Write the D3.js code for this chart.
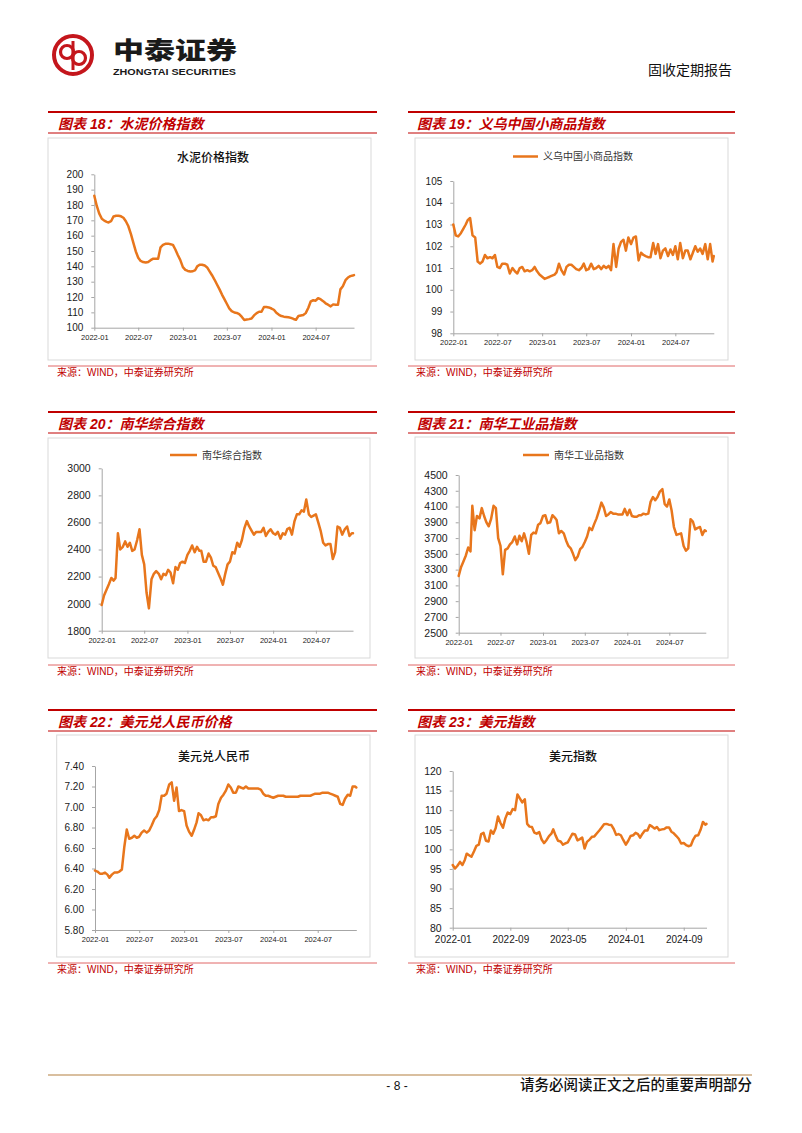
<!DOCTYPE html>
<html><head><meta charset="utf-8">
<script src="https://cdn.jsdelivr.net/npm/d3@7"></script>
<style>
html,body{margin:0;padding:0;background:#fff;}
svg{display:block;}
</style></head><body>
<svg id="page" width="802" height="1133"></svg>
<script>
// ---------------- DATA ----------------
const dates = [
"2022-01-01","2022-01-11","2022-01-21","2022-02-01","2022-02-11","2022-02-21","2022-03-01","2022-03-11","2022-03-21","2022-04-01","2022-04-11","2022-04-21",
"2022-05-01","2022-05-11","2022-05-21","2022-06-01","2022-06-11","2022-06-21","2022-07-01","2022-07-11","2022-07-21","2022-08-01","2022-08-11","2022-08-21",
"2022-09-01","2022-09-11","2022-09-21","2022-10-01","2022-10-11","2022-10-21","2022-11-01","2022-11-11","2022-11-21","2022-12-01","2022-12-11","2022-12-21",
"2023-01-01","2023-01-11","2023-01-21","2023-02-01","2023-02-11","2023-02-21","2023-03-01","2023-03-11","2023-03-21","2023-04-01","2023-04-11","2023-04-21",
"2023-05-01","2023-05-11","2023-05-21","2023-06-01","2023-06-11","2023-06-21","2023-07-01","2023-07-11","2023-07-21","2023-08-01","2023-08-11","2023-08-21",
"2023-09-01","2023-09-11","2023-09-21","2023-10-01","2023-10-11","2023-10-21","2023-11-01","2023-11-11","2023-11-21","2023-12-01","2023-12-11","2023-12-21",
"2024-01-01","2024-01-11","2024-01-21","2024-02-01","2024-02-11","2024-02-21","2024-03-01","2024-03-11","2024-03-21","2024-04-01","2024-04-11","2024-04-21",
"2024-05-01","2024-05-11","2024-05-21","2024-06-01","2024-06-11","2024-06-21","2024-07-01","2024-07-11","2024-07-21","2024-08-01","2024-08-11","2024-08-21",
"2024-09-01","2024-09-11","2024-09-21","2024-10-01","2024-10-11","2024-10-21","2024-11-01","2024-11-11","2024-11-21","2024-12-01","2024-12-06"
];

const cementValues = [
186,179.5,174.5,171,169.8,169,168.6,169.4,172.5,173,
173,172.6,171.7,169.4,166.3,161,155.3,149.7,145.6,143.5,
142.8,142.5,142.8,144,145,145,145,152.4,154,154.7,
154.8,154.4,154,151,147.4,144.2,139.5,137.7,137,136.6,
136.8,137.6,140,141,141,140.5,139.3,136.7,134.2,131.4,
128.3,125,121.6,118.6,115.6,112.6,110.8,109.9,109.6,108.8,
107,105,105.3,105.6,106,108,109.5,110.4,110.4,113.5,
113.5,113.2,112.5,111.7,109.7,108.4,107.6,107.2,107,106.8,
106.4,105.7,105.2,107.6,108,108.3,109.5,113,117.2,117.9,
117.6,119.2,118.6,117.3,115.9,115,113.9,115.2,114.9,115,
125,127,131,132.7,133.6,134,134.3
];

const yiwuValues = [
103.0,102.5,102.45,102.6,102.8,103.0,103.2,103.3,102.5,102.4,
101.3,101.2,101.3,101.6,101.45,101.5,101.45,101.6,101.05,101.0,
101.2,101.2,101.15,100.75,101.0,100.85,100.75,101.0,101.05,100.85,
100.9,100.85,100.9,101.05,100.85,100.7,100.6,100.5,100.55,100.6,
100.65,100.7,100.8,101.2,100.9,100.7,101.05,101.15,101.15,101.05,
100.95,100.9,101.0,101.2,100.9,100.95,101.2,100.95,101.0,101.1,
100.95,101.1,101.0,101.1,100.9,102.1,101.05,101.9,102.2,102.3,
101.8,102.4,102.1,102.4,102.45,101.35,101.7,101.6,101.55,101.5,
101.5,102.15,101.65,102.1,101.45,101.8,101.9,101.55,101.85,101.6,
102.0,101.4,102.15,101.45,101.8,101.8,101.4,101.7,102.0,101.75,
101.9,101.65,102.1,101.4,102.1,101.3,101.55
];

const nanhuaValues = [
1990,2060,2100,2145,2190,2170,2190,2520,2400,2420,
2460,2420,2450,2390,2400,2470,2550,2360,2290,2080,
1965,2180,2220,2240,2220,2180,2220,2210,2250,2230,
2150,2270,2250,2300,2310,2300,2360,2390,2430,2380,
2420,2390,2390,2310,2310,2370,2340,2280,2270,2230,
2190,2140,2220,2290,2310,2380,2370,2450,2420,2470,
2560,2610,2570,2540,2510,2530,2530,2530,2560,2500,
2530,2550,2520,2510,2530,2480,2520,2510,2550,2560,
2510,2610,2660,2660,2690,2680,2770,2660,2640,2650,
2660,2600,2540,2450,2430,2440,2440,2330,2380,2570,
2560,2510,2550,2570,2500,2520,2520
];

const industrialValues = [
3220,3330,3400,3480,3580,3530,4110,3800,3980,3950,
4080,3980,3900,3850,3940,4110,4080,3700,3600,3240,
3550,3570,3620,3650,3720,3620,3730,3660,3760,3660,
3500,3740,3770,3760,3870,3890,3980,3990,3890,3900,
3990,3960,3930,3760,3790,3760,3670,3600,3570,3500,
3420,3470,3560,3590,3650,3720,3830,3800,3880,3950,
4050,4150,4090,3980,4000,4030,4010,4010,4000,4000,
4000,4070,3990,4060,3980,3970,3970,3990,3990,4010,
4000,4010,4160,4220,4180,4220,4290,4320,4130,4100,
4190,4050,3840,3740,3750,3760,3600,3540,3570,3940,
3910,3810,3830,3840,3740,3800,3790
];

const usdcnyValues = [
6.38,6.37,6.35,6.35,6.36,6.34,6.31,6.34,6.36,6.36,
6.37,6.39,6.61,6.78,6.69,6.70,6.72,6.70,6.71,6.75,
6.77,6.75,6.77,6.82,6.88,6.91,6.97,7.11,7.11,7.13,
7.22,7.24,7.06,7.19,6.96,6.97,6.96,6.82,6.76,6.72,
6.78,6.85,6.94,6.92,6.87,6.88,6.87,6.90,6.90,6.91,
7.03,7.09,7.12,7.16,7.22,7.19,7.14,7.14,7.20,7.19,
7.18,7.20,7.18,7.18,7.18,7.18,7.18,7.17,7.13,7.11,
7.11,7.10,7.09,7.10,7.11,7.11,7.11,7.10,7.10,7.10,
7.10,7.10,7.10,7.11,7.11,7.11,7.11,7.11,7.12,7.13,
7.13,7.13,7.14,7.14,7.14,7.13,7.12,7.11,7.10,7.03,
7.02,7.08,7.12,7.11,7.20,7.20,7.19
];

const dxyValues = [
96,95.1,95.8,96.8,96,97.3,98.9,98.5,98.1,99.5,
100.9,101.2,103.9,104.2,102.2,102,104.8,104,105.4,108.4,
106.8,105.5,107.9,109.4,109,110.3,110,114,113,112,
112.8,106.5,105.8,105.7,104.3,104,104.4,102.5,101.6,102.4,
103.4,104,105.1,103.5,102.2,102,101.2,101.5,101.8,102.9,
104,103.8,102.3,102.6,103,100.2,101.9,102.5,103.2,103.3,
104.1,104.8,105.6,106.4,106.5,106.3,106.2,105.2,103.7,103.9,
103.6,102.4,101.2,102.2,103.4,103.6,104.2,103.9,103,104,
104.8,104.8,106.2,105.8,105.3,105.7,104.9,105.1,105.2,105.6,
105.6,104.5,104.1,103.4,102.7,101.5,101.6,101.1,100.8,101,
102.5,103.5,103.6,105,107,106.3,106.5
];

const xTicksHalfYear = ["2022-01","2022-07","2023-01","2023-07","2024-01","2024-07"];
const xTicksDxy = ["2022-01","2022-09","2023-05","2024-01","2024-09"];
const cementTicks = [100,110,120,130,140,150,160,170,180,190,200];
const yiwuTicks = [98,99,100,101,102,103,104,105];
const nanhuaTicks = [1800,2000,2200,2400,2600,2800,3000];
const industrialTicks = [2500,2700,2900,3100,3300,3500,3700,3900,4100,4300,4500];
const usdcnyTicks = [5.8,6.0,6.2,6.4,6.6,6.8,7.0,7.2,7.4];
const dxyTicks = [80,85,90,95,100,105,110,115,120];

// ---------------- STYLE ----------------
const RED = "#c00000";
const ORANGE = "#e8761c";
const FONT = "'Liberation Sans','Noto Sans CJK SC',sans-serif";
const CJK = "'Noto Sans CJK SC',sans-serif";
const SOURCE = "来源：WIND，中泰证券研究所";

const svg = d3.select("#page");
const parseDay = d3.timeParse("%Y-%m-%d");
const parseMonth = d3.timeParse("%Y-%m");

// ---------------- HEADER ----------------
const logo = svg.append("g");
logo.append("circle").attr("cx",73).attr("cy",55).attr("r",19)
  .attr("fill","none").attr("stroke","#c4161c").attr("stroke-width",4);
logo.append("line").attr("x1",73).attr("x2",73).attr("y1",41).attr("y2",70)
  .attr("stroke","#c4161c").attr("stroke-width",3);
logo.append("circle").attr("cx",67).attr("cy",52).attr("r",6.5)
  .attr("fill","none").attr("stroke","#c4161c").attr("stroke-width",3.2);
logo.append("circle").attr("cx",79).attr("cy",58).attr("r",6.5)
  .attr("fill","none").attr("stroke","#c4161c").attr("stroke-width",3.2);
logo.append("text").attr("x",113).attr("y",59).attr("font-family",CJK)
  .attr("font-weight",900).attr("font-size",24).attr("fill","#1a1a1a")
  .attr("textLength",124).attr("lengthAdjust","spacingAndGlyphs").text("中泰证券");
logo.append("text").attr("x",113).attr("y",74.5).attr("font-family","'Liberation Sans Narrow','Liberation Sans',sans-serif")
  .attr("font-weight",700).attr("font-size",9).attr("fill","#1a1a1a")
  .attr("textLength",123).attr("lengthAdjust","spacingAndGlyphs").text("ZHONGTAI SECURITIES");
svg.append("text").attr("x",732).attr("y",75).attr("text-anchor","end")
  .attr("font-family",CJK).attr("font-size",14).attr("fill","#111").text("固收定期报告");

// ---------------- PANELS ----------------
function panel(cfg) {
  const g = svg.append("g");
  g.append("line").attr("x1",cfg.lx0).attr("x2",cfg.lx1).attr("y1",cfg.top).attr("y2",cfg.top)
    .attr("stroke",RED).attr("stroke-width",1.8);
  g.append("text").attr("x",cfg.tx).attr("y",cfg.top+17).attr("font-family",FONT)
    .attr("font-size",14).attr("font-weight",700).attr("font-style","italic")
    .attr("fill",RED).text(cfg.heading);
  g.append("line").attr("x1",cfg.lx0).attr("x2",cfg.lx1).attr("y1",cfg.top+21).attr("y2",cfg.top+21)
    .attr("stroke",RED).attr("stroke-width",1);
  g.append("rect").attr("x",cfg.box[0]).attr("y",cfg.box[1]).attr("width",cfg.box[2]).attr("height",cfg.box[3])
    .attr("fill","#fff").attr("stroke","#d9d9d9").attr("stroke-width",1);
  g.append("line").attr("x1",cfg.lx0).attr("x2",cfg.lx1).attr("y1",cfg.src).attr("y2",cfg.src)
    .attr("stroke","#e06666").attr("stroke-width",1);
  g.append("text").attr("x",cfg.tx-1).attr("y",cfg.src+10).attr("font-family",FONT)
    .attr("font-size",10).attr("fill",RED).text(SOURCE);

  const x = d3.scaleTime()
    .domain([parseDay(dates[0]), parseDay(dates[dates.length-1])])
    .range([cfg.px0, cfg.px1]);
  const y = d3.scaleLinear().domain(cfg.yDomain).range([cfg.pyBot, cfg.pyTop]);

  const gy = g.append("g").attr("transform",`translate(${cfg.px0},0)`)
    .call(d3.axisLeft(y).tickValues(cfg.yTicks).tickSize(3).tickSizeOuter(0).tickPadding(8).tickFormat(cfg.yFmt));
  const gx = g.append("g").attr("transform",`translate(0,${cfg.pyBot})`)
    .call(d3.axisBottom(x).tickValues(cfg.xTicks.map(parseMonth)).tickSize(3).tickSizeOuter(0)
      .tickPadding(cfg.xPad).tickFormat(d3.timeFormat("%Y-%m")));
  [gx, gy].forEach(a => {
    a.select(".domain").attr("stroke","#a6a6a6").attr("stroke-width",1);
    a.selectAll(".tick line").attr("stroke","#a6a6a6");
    a.selectAll("text").attr("font-family","'Liberation Sans',sans-serif").attr("fill","#1a1a1a");
  });
  gy.selectAll("text").attr("font-size",cfg.yFont);
  gx.selectAll("text").attr("font-size",cfg.xFont);

  const pts = dates.map((d,i) => [parseDay(d), cfg.values[i]]);
  g.append("path").datum(pts)
    .attr("d", d3.line().x(d => x(d[0])).y(d => y(d[1])))
    .attr("fill","none").attr("stroke",ORANGE).attr("stroke-width",2.5)
    .attr("stroke-linejoin","round").attr("stroke-linecap","round");

  if (cfg.title) {
    g.append("text").attr("x",cfg.title[0]).attr("y",cfg.title[1]).attr("text-anchor","middle")
      .attr("font-family",CJK).attr("font-size",12).attr("font-weight",500).attr("fill","#111")
      .text(cfg.name);
  }
  if (cfg.legend) {
    const [lx0, lx1, ly] = cfg.legend;
    g.append("line").attr("x1",lx0).attr("x2",lx1).attr("y1",ly).attr("y2",ly)
      .attr("stroke",ORANGE).attr("stroke-width",2.5);
    g.append("text").attr("x",lx1+5).attr("y",ly+3.8).attr("font-family",CJK)
      .attr("font-size",10).attr("fill","#333").text(cfg.name);
  }
}

const fmtInt = d3.format("d");
const fmt2 = d3.format(".2f");

panel({heading:"图表 18：水泥价格指数", name:"水泥价格指数", values:cementValues,
  top:112, lx0:48, lx1:377, tx:58, box:[48,138,323,222], src:366,
  px0:94.3, px1:354, pyTop:174.3, pyBot:327.7, yDomain:[100,200], yTicks:cementTicks, yFmt:fmtInt,
  xTicks:xTicksHalfYear, xPad:3.5, xFont:7.5, yFont:10, title:[213,162]});
panel({heading:"图表 19：义乌中国小商品指数", name:"义乌中国小商品指数", values:yiwuValues,
  top:112, lx0:408, lx1:735, tx:417, box:[415,138,313,222], src:366,
  px0:453.3, px1:713.8, pyTop:181, pyBot:333.3, yDomain:[98,105], yTicks:yiwuTicks, yFmt:fmtInt,
  xTicks:xTicksHalfYear, xPad:3.5, xFont:7.5, yFont:10, legend:[513,538,156.5]});
panel({heading:"图表 20：南华综合指数", name:"南华综合指数", values:nanhuaValues,
  top:412, lx0:48, lx1:377, tx:58, box:[48,438,322,220], src:665,
  px0:101.7, px1:353, pyTop:468.3, pyBot:630.7, yDomain:[1800,3000], yTicks:nanhuaTicks, yFmt:fmtInt,
  xTicks:xTicksHalfYear, xPad:3.5, xFont:7.5, yFont:10.5, legend:[170,197,455]});
panel({heading:"图表 21：南华工业品指数", name:"南华工业品指数", values:industrialValues,
  top:412, lx0:408, lx1:735, tx:417, box:[415,437,313,221], src:665,
  px0:458.7, px1:705.8, pyTop:475, pyBot:632.7, yDomain:[2500,4500], yTicks:industrialTicks, yFmt:fmtInt,
  xTicks:xTicksHalfYear, xPad:3.5, xFont:7.5, yFont:10.5, legend:[523,549,455]});
panel({heading:"图表 22：美元兑人民币价格", name:"美元兑人民币", values:usdcnyValues,
  top:710, lx0:48, lx1:377, tx:58, box:[56.7,735,313.3,222], src:963,
  px0:95, px1:356.3, pyTop:766, pyBot:930, yDomain:[5.8,7.4], yTicks:usdcnyTicks, yFmt:fmt2,
  xTicks:xTicksHalfYear, xPad:3.5, xFont:7.5, yFont:10, title:[214,761]});
panel({heading:"图表 23：美元指数", name:"美元指数", values:dxyValues,
  top:710, lx0:408, lx1:735, tx:417, box:[415,735,313,222], src:963,
  px0:452.7, px1:706.5, pyTop:771, pyBot:927.7, yDomain:[80,120], yTicks:dxyTicks, yFmt:fmtInt,
  xTicks:xTicksDxy, xPad:5, xFont:10, yFont:10.5, title:[573,761]});

// ---------------- FOOTER ----------------
svg.append("line").attr("x1",48).attr("x2",752).attr("y1",1075).attr("y2",1075)
  .attr("stroke","#d9bf9f").attr("stroke-width",2);
svg.append("text").attr("x",397).attr("y",1090).attr("text-anchor","middle")
  .attr("font-family",FONT).attr("font-size",12).attr("fill","#111").text("- 8 -");
svg.append("text").attr("x",752).attr("y",1090).attr("text-anchor","end")
  .attr("font-family",CJK).attr("font-size",14.5).attr("font-weight",500).attr("fill","#111")
  .text("请务必阅读正文之后的重要声明部分");
</script>
</body></html>
